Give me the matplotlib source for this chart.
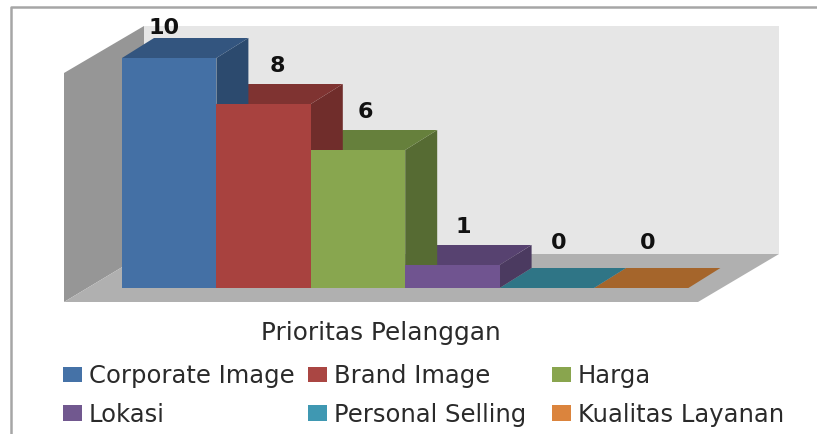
import matplotlib
matplotlib.use("Agg")
import matplotlib.pyplot as plt
from matplotlib.patches import Polygon, Patch
from matplotlib.lines import Line2D

categories = ["Corporate Image", "Brand Image", "Harga", "Lokasi", "Personal Selling", "Kualitas Layanan"]
values = [10, 8, 6, 1, 0, 0]
axis_title = "Prioritas Pelanggan"

front_colors = ["#4470a5", "#a8423f", "#88a64f", "#705490", "#3d97b0", "#db843d"]
top_colors = ["#33557f", "#7f3331", "#66803c", "#574270", "#2f7586", "#a5652b"]
side_colors = ["#2c4a6e", "#702d2b", "#566b33", "#4b3a60", "#2a6070", "#8a5424"]
legend_colors = ["#4572a7", "#aa4643", "#89a54e", "#71588f", "#3f98b2", "#db843d"]

W, H = 817, 434
PX_X, PX_Y = 94.4, 23.0   # pixels per category / per unit
X0, Y0 = 122, 288         # pixel of category 0 left edge, value 0
fig = plt.figure(figsize=(W / 100, H / 100), dpi=100, facecolor="white")
ax = fig.add_axes([0, 0, 1, 1])
ax.set_xlim(-X0 / PX_X, (W - X0) / PX_X)
ax.set_ylim(-(H - Y0) / PX_Y, Y0 / PX_Y)
ax.axis("off")

def dx(p): return p / PX_X
def dy(p): return p / PX_Y

DX, DY = dx(32), dy(20)
n = len(values)

# chart frame
frame = "#a6a6a6"
ax.add_line(Line2D([dx(11 - X0), dx(11 - X0), dx(W - X0)],
                   [dy(Y0 - H), dy(Y0 - 7), dy(Y0 - 7)], color=frame, lw=1.8))

# walls and floor
wall_top = dy(Y0 - 26)
wall_floor_back = dy(Y0 - 254)
left = dx(144 - X0)
right = dx(779 - X0)
ax.add_patch(Polygon([(left, wall_floor_back), (left, wall_top), (right, wall_top), (right, wall_floor_back)],
                     fc="#e6e6e6", ec="none"))
ax.add_patch(Polygon([(dx(64 - X0), dy(Y0 - 302)), (dx(64 - X0), dy(Y0 - 73)), (left, wall_top), (left, wall_floor_back)],
                     fc="#969696", ec="none"))
ax.add_patch(Polygon([(dx(64 - X0), dy(Y0 - 302)), (dx(698 - X0), dy(Y0 - 302)), (right, wall_floor_back), (left, wall_floor_back)],
                     fc="#b0b0b0", ec="none"))

# bars: draw right to left so nearer faces stay correct
for i in range(n - 1, -1, -1):
    v = values[i]
    ax.add_patch(Polygon([(i + 1, 0), (i + 1 + DX, DY), (i + 1 + DX, v + DY), (i + 1, v)],
                         fc=side_colors[i], ec="none", zorder=3))
    ax.add_patch(Polygon([(i, v), (i + 1, v), (i + 1 + DX, v + DY), (i + DX, v + DY)],
                         fc=top_colors[i], ec="none", zorder=3))
ax.bar(range(n), values, width=1, align="edge", color=front_colors, linewidth=0, zorder=4)

# data labels
label_offsets = [(-5, 10), (14, 18), (7, 18), (11, 18), (12, 25), (6, 25)]
for i, v in enumerate(values):
    ax.annotate(str(v), xy=(i + 0.5, v + DY), xytext=label_offsets[i], textcoords="offset pixels",
                ha="center", va="center", fontsize=16, fontweight="bold", color="#111111",
                family="DejaVu Sans", zorder=6)

TEXT = "#2a2a2a"
FONT = "DejaVu Sans"
ax.text(dx(381 - X0), dy(Y0 - 333), axis_title, ha="center", va="center",
        fontsize=17.8, color=TEXT, family=FONT)

# legend: three columns of two entries each
columns = [(0, 3), (1, 4), (2, 5)]
col_px = [63, 308, 552]
for k, ((a, b), cx) in enumerate(zip(columns, col_px)):
    handles = [Patch(fc=legend_colors[a], ec="none", label=categories[a]),
               Patch(fc=legend_colors[b], ec="none", label=categories[b])]
    leg = ax.legend(handles=handles, loc="upper left",
                    bbox_to_anchor=(cx / W, 1 - 364 / H), bbox_transform=fig.transFigure,
                    frameon=False, borderpad=0, borderaxespad=0,
                    prop={"family": FONT, "size": 17.5}, labelcolor=TEXT,
                    handlelength=0.78, handleheight=0.62, handletextpad=0.29, labelspacing=0.6)
    if k < len(columns) - 1:
        ax.add_artist(leg)

fig.savefig("out.png", dpi=100, facecolor="white")
